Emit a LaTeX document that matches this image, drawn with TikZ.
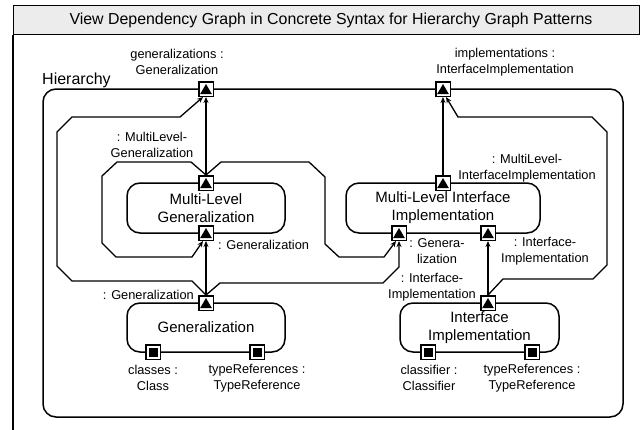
\documentclass[tikz,border=0pt]{standalone}
\usepackage{fontspec}
\setmainfont{Liberation Sans}
\usetikzlibrary{arrows.meta,calc}

\definecolor{barfill}{RGB}{236,236,236}

\tikzset{
  container/.style={draw, line width=1.5pt, rounded corners=13pt, inner sep=0pt},
  block/.style={draw, line width=1.5pt, rounded corners=13pt, align=center,
    font=\fontsize{15}{18}\selectfont, inner sep=0pt},
  lbl/.style={align=center, font=\fontsize{12.8}{16.5}\selectfont, inner sep=0pt},
  tport/.style={draw, line width=1.5pt, fill=white, minimum size=14.5pt, inner sep=0pt,
    path picture={\fill[black] ($(path picture bounding box.center)+(0pt,5pt)$)
      -- ++(5.8pt,-10pt) -- ++(-11.6pt,0pt) -- cycle;}},
  sport/.style={draw, line width=1.5pt, fill=white, minimum size=14.5pt, inner sep=0pt,
    path picture={\fill[black] ($(path picture bounding box.center)+(-4.5pt,-4.5pt)$)
      rectangle ++(9pt,9pt);}},
  flow/.style={line width=1.3pt, line join=round, -{Stealth[length=6pt,width=5pt]}},
}

\begin{document}
\begin{tikzpicture}[x=1pt,y=-1pt]
\useasboundingbox (0,0) rectangle (640,429);

% title bar and frame
\node[draw, line width=1.3pt, fill=barfill, anchor=north west,
      minimum width=626pt, minimum height=29pt, inner sep=0pt] (bar) at (13,5) {};
\node[font=\fontsize{15.9}{20}\selectfont, inner sep=0pt] (title) at (331,20)
  {View Dependency Graph in Concrete Syntax for Hierarchy Graph Patterns};
\draw[line width=1.3pt] (bar.south west) -- ++(0,-420pt);

% hierarchy container
\node[container, minimum width=580pt, minimum height=328pt] (hier) at (333,253) {};
\node[font=\fontsize{16}{19}\selectfont, anchor=west, inner sep=0pt] (hierlbl) at (42,80) {Hierarchy};

% pattern blocks
\node[block, minimum width=158pt, minimum height=50pt] (mlg) at (206,208) {Multi-Level\\Generalization};
\node[block, minimum width=194pt, minimum height=50pt] (mli) at (443,208) {Multi-Level Interface\\Implementation};
\node[block, minimum width=158pt, minimum height=49pt] (gen) at (206,327.5) {Generalization};
\node[block, minimum width=159pt, minimum height=49pt] (ii) at (479.5,327.5) {Interface\\Implementation};

% ports
\node[tport] (gp) at (206,89) {};
\node[tport] (ip) at (443,89) {};
\node[tport] (mgt) at (206,183) {};
\node[tport] (mgb) at (206,233) {};
\node[tport] (mit) at (443,183) {};
\node[tport] (mib1) at (399,233) {};
\node[tport] (mib2) at (488,233) {};
\node[tport] (gt) at (206,303) {};
\node[sport] (gb1) at (153,352) {};
\node[sport] (gb2) at (257,352) {};
\node[tport] (it) at (488,303) {};
\node[sport] (ib1) at (428,352) {};
\node[sport] (ib2) at (532,352) {};

% dependencies
\draw[flow] (mgt.north) -- (gp.south);
\draw[flow] (gt.north) -- (mgb.south);
\draw[flow] (gt.north) -- (192,281) -- (72,281) -- (57,266) -- (57,132)
  -- (72,117) -- (180,117) -- ([xshift=-3pt]gp.south);
\draw[flow] (mgt.north) -- (191,162) -- (117,162) -- (102,176) -- (102,243)
  -- (116,257) -- (192,257) -- ([xshift=-3pt]mgb.south);
\draw[flow] (mgt.north) -- (221,162) -- (309,162) -- (325,177) -- (325,244)
  -- (339,257) -- (384,257) -- ([xshift=-3pt]mib1.south);
\draw[flow] (gt.north) -- (220,283) -- (383,283) -- (399,267) -- (mib1.south);
\draw[flow] (it.north) -- (mib2.south);
\draw[flow] (it.north) -- (503,279) -- (593,279) -- (607,265) -- (607,132)
  -- (592,117) -- (458,117) -- ([xshift=3pt]ip.south);
\draw[flow] (mit.north) -- (ip.south);

% port labels
\node[lbl] (lgp) at (177,62) {generalizations :\\Generalization};
\node[lbl] (lip) at (505,62) {implementations :\\InterfaceImplementation};
\node[lbl] (lmgt) at (152,145) {: MultiLevel-\\Generalization};
\node[lbl, anchor=west] (lmgb) at (218,245) {: Generalization};
\node[lbl, anchor=east] (lgt) at (194,295) {: Generalization};
\node[lbl] (lmit) at (527,168) {: MultiLevel-\\InterfaceImplementation};
\node[lbl] (lmib1) at (437,251) {: Genera-\\lization};
\node[lbl] (lmib2) at (545,251) {: Interface-\\Implementation};
\node[lbl] (lit) at (432,287) {: Interface-\\Implementation};
\node[lbl] (lgb1) at (153,378) {classes :\\Class};
\node[lbl] (lgb2) at (257,378) {typeReferences :\\TypeReference};
\node[lbl] (lib1) at (429,378) {classifier :\\Classifier};
\node[lbl] (lib2) at (532,378) {typeReferences :\\TypeReference};
\end{tikzpicture}
\end{document}
